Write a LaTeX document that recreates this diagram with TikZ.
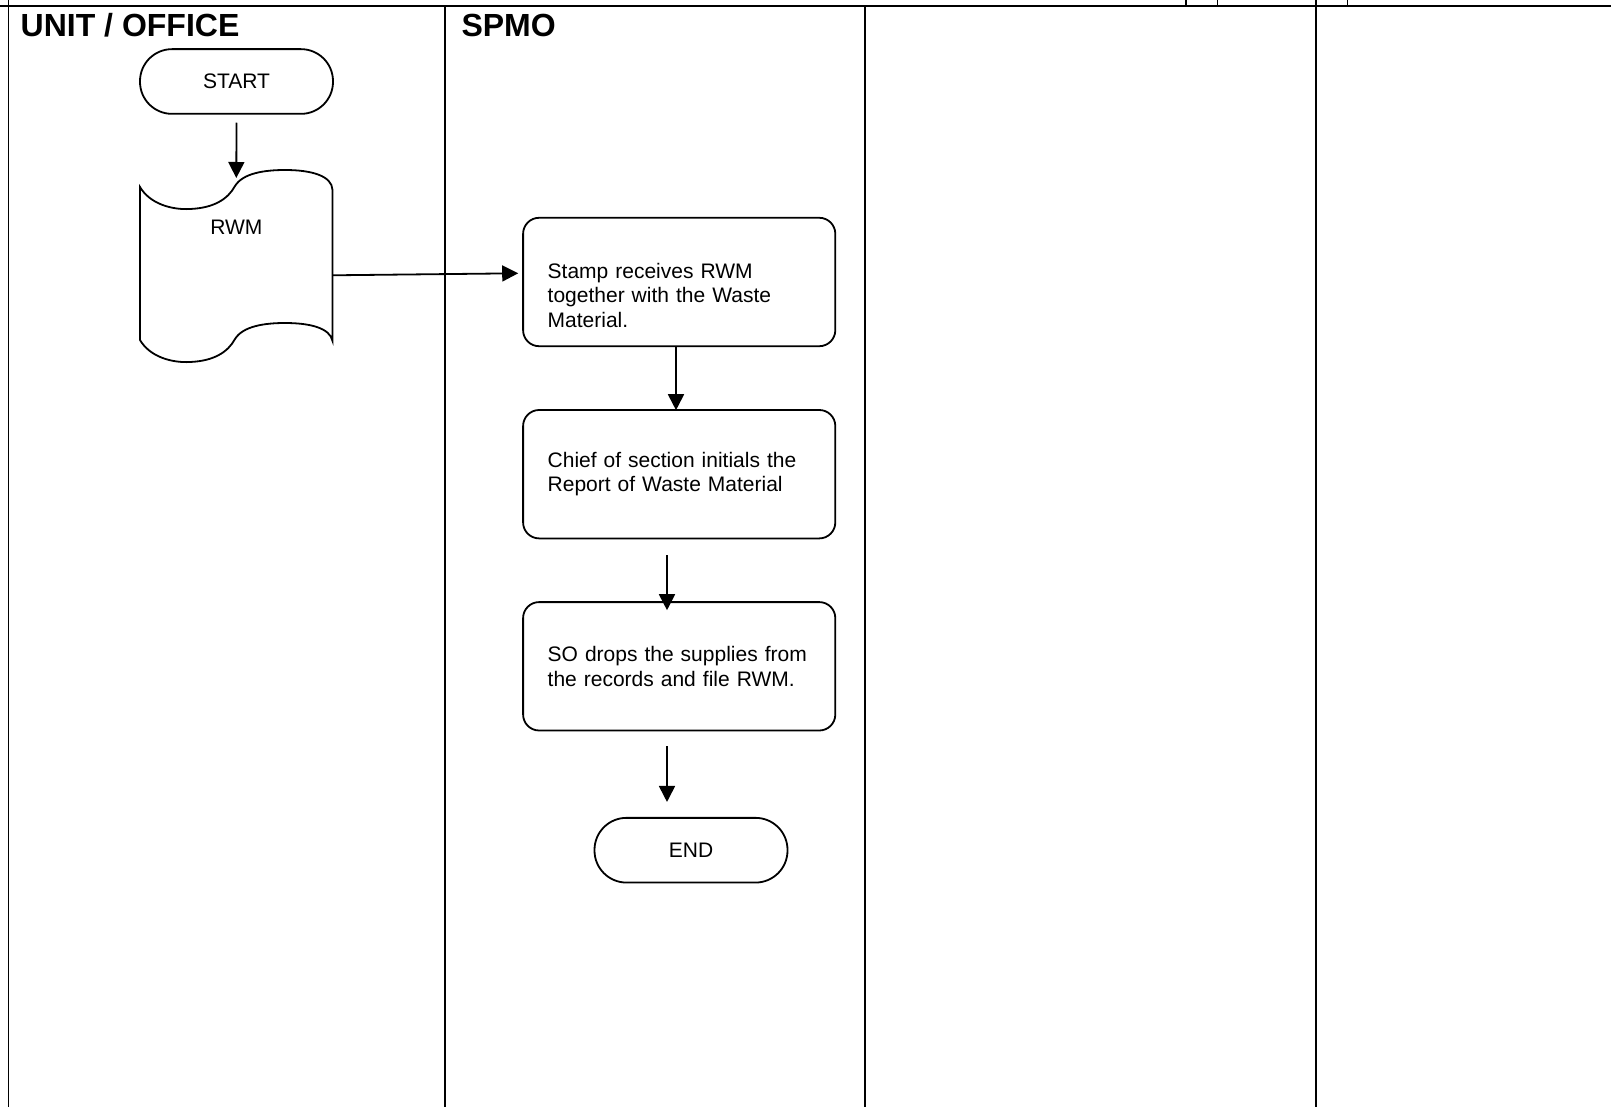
\documentclass[tikz,border=0pt]{standalone}
\usepackage{fontspec}
\setmainfont{Liberation Sans}
\usetikzlibrary{arrows.meta}
\begin{document}
\begin{tikzpicture}[x=1pt,y=-1pt,
  every node/.style={font=\fontsize{21}{24.5}\selectfont},
  lane/.style={line width=1.3pt},
  header/.style={anchor=base west,inner sep=0pt,font=\fontsize{32}{36}\selectfont\bfseries},
  term/.style={draw,line width=1.8pt,rounded corners=32pt,minimum width=193pt,minimum height=64.7pt,inner sep=0pt},
  proc/.style={draw,line width=1.8pt,rounded corners=16pt,text width=263pt,inner xsep=24.6pt,
    minimum height=128.4pt,align=left},
  arr/.style={line width=1.8pt,-{Triangle[length=16pt,width=16pt]}}]
\useasboundingbox (0,0) rectangle (1611,1107);
\fill[white] (0,0) rectangle (1611,1107);

% swimlane grid
\draw[line width=2.6pt] (0,6) -- (1611,6);
\draw[lane] (8.2,0) -- (8.2,1107);
\draw[lane] (444.9,6) -- (444.9,1107);
\draw[lane] (865.1,6) -- (865.1,1107);
\draw[lane] (1316.1,0) -- (1316.1,1107);
\foreach \x in {1186,1217.7,1347.7} \draw[lane] (\x,0) -- (\x,6);

% lane headings
\node[header] (hunit) at (20.5,37) {UNIT / OFFICE};
\node[header] (hspmo) at (461.3,37) {SPMO};

% unit / office lane
\node[term] (start) at (236.5,81.5) {START};

\draw[line width=1.8pt]
  (140,187) .. controls (150,204) and (172,210) .. (190,209)
  .. controls (214,208) and (228,199) .. (235,186)
  .. controls (243,173) and (265,170) .. (285,170)
  .. controls (312,170) and (332,176) .. (332.5,190)
  -- (332.5,341)
  .. controls (330,328) and (310,323) .. (285,323)
  .. controls (265,323) and (243,326) .. (235,339)
  .. controls (228,352) and (214,361) .. (190,362)
  .. controls (172,363) and (150,357) .. (140,340) -- cycle;
\node[inner sep=0pt] (rwm) at (236.3,227) {RWM};
\coordinate (rwmtop) at (236.3,178);
\coordinate (rwmright) at (332.5,275.3);

% SPMO lane
\node[proc] (box1) at (679.2,282) {\strut\\Stamp receives RWM\\together with the Waste\\Material.};
\node[proc] (box2) at (679.2,474.2) {Chief of section initials the\\Report of Waste Material};
\node[proc] (box3) at (679.2,666.3) {SO drops the supplies from\\the records and file RWM.};
\node[term] (end) at (691,850.2) {END};

% connectors
\draw[arr] ([yshift=-8pt]start.south) -- (rwmtop);
\draw[arr] (rwmright) -- ([xshift=-4pt,yshift=8.7pt]box1.west);
\draw[arr] ([xshift=-3.2pt]box1.south) -- ([xshift=-3.2pt,yshift=-1.1pt]box2.north);
\draw[arr] ([xshift=-12.2pt,yshift=-16pt]box2.south) -- ([xshift=-12.2pt,yshift=-9pt]box3.north);
\draw[arr] ([xshift=-12.2pt,yshift=-15pt]box3.south) -- ([xshift=-24pt,yshift=15pt]end.north);
\end{tikzpicture}
\end{document}
